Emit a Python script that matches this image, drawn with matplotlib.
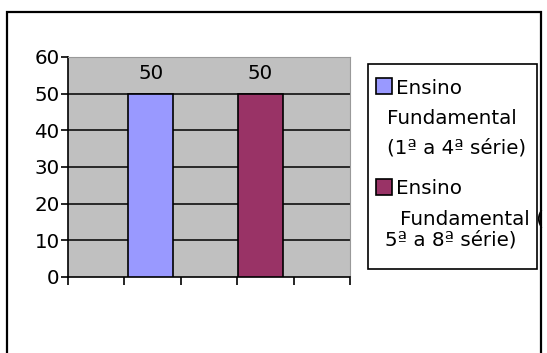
import matplotlib.pyplot as plt
from matplotlib.patches import Rectangle

# data
series = ["Ensino Fundamental (1ª a 4ª série)", "Ensino Fundamental (5ª a 8ª série)"]
values = [50, 50]
colors = ["#9999FF", "#993366"]
y_ticks = [0, 10, 20, 30, 40, 50, 60]

# legend text as wrapped in the original
legend_lines = [
    ["Ensino", "Fundamental", "(1ª a 4ª série)"],
    ["Ensino", "Fundamental (", "5ª a 8ª série)"],
]

W, H = 547, 353
FONT = "DejaVu Sans"
FS = 14.3


def fx(x):
    return x / W


def fy(y):
    return 1 - y / H


fig = plt.figure(figsize=(W / 100, H / 100), dpi=100)
fig.patch.set_facecolor("white")

# outer chart frame
fig.patches.append(Rectangle((fx(7), fy(370)), fx(541) - fx(7), fy(12) - fy(370),
                             transform=fig.transFigure, fill=False,
                             edgecolor="black", linewidth=1.6))

ax = fig.add_axes([fx(68), fy(277), fx(350) - fx(68), fy(57) - fy(277)])
ax.set_facecolor("#C0C0C0")

bar_pos = [1.06, 3.01]
bar_w = 0.81
bars = ax.bar(bar_pos, values, width=bar_w, align="edge", color=colors,
              edgecolor="black", linewidth=1.2, zorder=3)
for b, v in zip(bars, values):
    ax.text(b.get_x() + b.get_width() / 2, v + 3.0, str(v), ha="center",
            va="bottom", fontsize=FS, family=FONT, color="black")

ax.set_xlim(0, 5)
ax.set_ylim(0, 60)
ax.set_yticks(y_ticks)
ax.set_xticks(range(6))
ax.set_xticklabels([])
ax.tick_params(axis="y", labelsize=FS, length=5, width=1.2, pad=1)
ax.tick_params(axis="x", length=6, width=1.2)
for lab in ax.get_yticklabels():
    lab.set_family(FONT)

for t in y_ticks[1:-1]:
    ax.axhline(t, color="black", linewidth=1.1, zorder=1)

ax.spines["left"].set_linewidth(1.2)
ax.spines["bottom"].set_linewidth(1.2)
ax.spines["top"].set_color("#999999")
ax.spines["right"].set_color("#999999")

# legend drawn by hand to keep the odd wrapping
fig.patches.append(Rectangle((fx(368), fy(269)), fx(537) - fx(368), fy(64) - fy(269),
                             transform=fig.transFigure, fill=False,
                             edgecolor="black", linewidth=1.2))

square_y = [78, 179]
line_y = [[88, 118, 148], [188, 219, 240]]
line_x = [[396, 387, 387], [396, 400, 385]]
for i, lines in enumerate(legend_lines):
    fig.patches.append(Rectangle((fx(376), fy(square_y[i] + 16)), fx(392) - fx(376),
                                 fy(square_y[i]) - fy(square_y[i] + 16),
                                 transform=fig.transFigure, facecolor=colors[i],
                                 edgecolor="black", linewidth=1.2))
    for txt, x, y in zip(lines, line_x[i], line_y[i]):
        fig.text(fx(x), fy(y), txt, ha="left", va="center", fontsize=FS,
                 family=FONT, color="black")

fig.savefig("out.png", dpi=100)
